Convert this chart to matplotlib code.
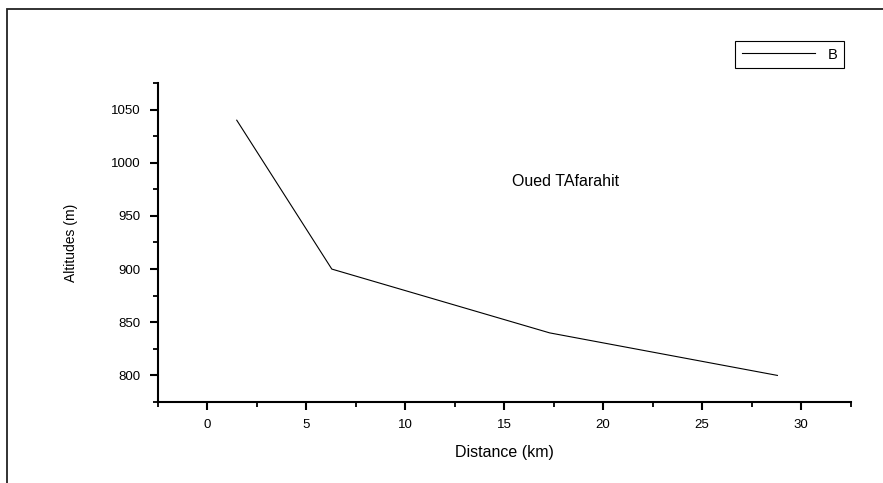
import matplotlib
matplotlib.use('Agg')
from matplotlib import pyplot as plt
from matplotlib.ticker import MultipleLocator
from matplotlib.patches import Rectangle

plt.rcParams['font.family'] = ['Liberation Sans', 'DejaVu Sans']

# profile of the wadi
distance_km = [1.5, 6.3, 17.3, 28.8]
altitude_m = [1040, 900, 840, 800]
series_name = 'B'
title_text = 'Oued TAfarahit'

fig = plt.figure(figsize=(8.83, 4.83), dpi=100)
ax = fig.add_axes([0.1784, 0.1677, 0.785, 0.6605])

# outer frame (only left and top edges visible in the original)
fig.add_artist(Rectangle((7 / 883, -0.1), 1.2, 1 - 9 / 483 + 0.1,
                         transform=fig.transFigure, fill=False,
                         edgecolor='#222222', linewidth=1.3))

ax.plot(distance_km, altitude_m, color='black', linewidth=0.8, label=series_name)

ax.set_xlim(-2.5, 32.5)
ax.set_ylim(775, 1075)
ax.xaxis.set_major_locator(MultipleLocator(5))
ax.xaxis.set_minor_locator(MultipleLocator(2.5))
ax.yaxis.set_major_locator(MultipleLocator(50))
ax.yaxis.set_minor_locator(MultipleLocator(25))

for side in ['top', 'right']:
    ax.spines[side].set_visible(False)
for side in ['left', 'bottom']:
    ax.spines[side].set_linewidth(1.5)

ax.tick_params(which='major', direction='out', length=6, width=1.5,
               labelsize=9.5, pad=6)
ax.tick_params(which='minor', direction='out', length=3.5, width=1.3)

ax.set_xlabel('Distance (km)', fontsize=11.5)
ax.set_ylabel('Altitudes (m)', fontsize=10)
ax.xaxis.set_label_coords(0.5, -0.135)
ax.yaxis.set_label_coords(-0.115, 0.5)

ax.text(0.589, 0.69, title_text, transform=ax.transAxes, fontsize=11.5,
        ha='center', va='center')

leg = ax.legend(loc='upper right', bbox_to_anchor=(844 / 883, 1 - 41 / 483),
                bbox_transform=fig.transFigure, fancybox=False, framealpha=1,
                edgecolor='black', fontsize=10.5, handlelength=5.0,
                borderpad=0.45, handletextpad=0.9, borderaxespad=0)
leg.get_frame().set_linewidth(0.8)

fig.savefig('out.png', dpi=100)
